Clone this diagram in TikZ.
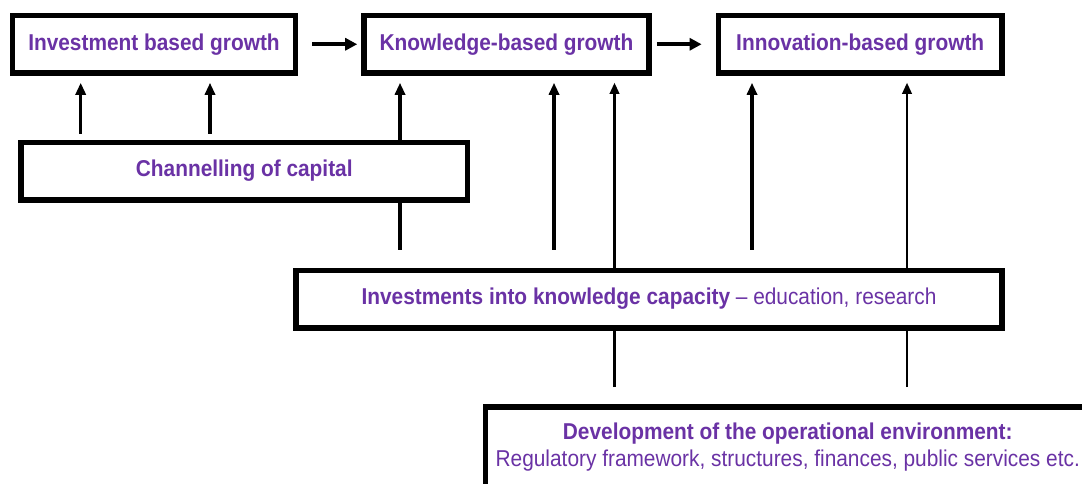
\documentclass[tikz,border=0pt]{standalone}
\usepackage{fontspec}
\setmainfont{Liberation Sans}[FakeStretch=0.91]
\usetikzlibrary{arrows.meta,backgrounds}
\definecolor{txtpurple}{RGB}{106,50,165}
\newcommand\boxsize{\fontsize{16.3}{19.2}\selectfont}
\begin{document}
\begin{tikzpicture}[x=0.025cm,y=-0.025cm,
		stage/.style={draw,line width=3.9pt,fill=white,text=txtpurple,font=\boxsize\bfseries,minimum height=1.4375cm,inner sep=0pt},
		across/.style={line width=2.8pt,-{Triangle[length=0.3cm,width=0.3cm]}},
		thickup/.style={line width=2.5pt,-{Triangle[length=0.3cm,width=0.25cm]}},
		thinup/.style={line width=1.6pt,-{Triangle[length=0.28cm,width=0.24cm]}}]
	\useasboundingbox (0,0) rectangle (1082,483);
	\clip (0,0) rectangle (1082,483);
	\node[stage,minimum width=7.075cm] (ibg) at (154,44.25) {Investment based growth};
	\node[stage,minimum width=7.125cm] (kbg) at (506.5,44.25) {Knowledge-based growth};
	\node[stage,minimum width=7.09cm] (nbg) at (860.2,44.25) {Innovation-based growth};
	\node[stage,minimum width=11.16cm] (chan) at (244.25,171.1) {Channelling of capital};
	\node[stage,minimum width=17.65cm] (capa) at (649,299) {Investments into knowledge capacity {\mdseries -- education, research}};
	\node[stage,minimum width=15.11cm,minimum height=2cm,align=center,font=\boxsize] (env) at (787.75,446.85) {{\bfseries Development of the operational environment:}\\Regulatory framework, structures, finances, public services etc.};
	\coordinate (c1) at (80.7,0);
	\coordinate (c2) at (210,0);
	\coordinate (c3) at (400,0);
	\coordinate (c4) at (554,0);
	\coordinate (c5) at (614.5,0);
	\coordinate (c6) at (752,0);
	\coordinate (c7) at (907,0);
	\begin{scope}[on background layer]
		\draw[across,shorten <=0.35cm,shorten >=0.1cm] (ibg) -- (kbg);
		\draw[across,shorten <=0.125cm,shorten >=0.35cm] (kbg) -- (nbg);
		\draw[thickup,shorten <=0.15cm,shorten >=0.175cm] (chan.north -| c1) -- (ibg.south -| c1);
		\draw[thickup,shorten <=0.15cm,shorten >=0.175cm] (chan.north -| c2) -- (ibg.south -| c2);
		\draw[thickup,shorten <=0.44cm,shorten >=0.175cm] (capa.north -| c3) -- (kbg.south -| c3);
		\draw[thickup,shorten <=0.44cm,shorten >=0.175cm] (capa.north -| c4) -- (kbg.south -| c4);
		\draw[thinup,shorten <=0.425cm,shorten >=0.175cm] (env.north -| c5) -- (kbg.south -| c5);
		\draw[thickup,shorten <=0.44cm,shorten >=0.175cm] (capa.north -| c6) -- (nbg.south -| c6);
		\draw[thinup,shorten <=0.425cm,shorten >=0.175cm] (env.north -| c7) -- (nbg.south -| c7);
	\end{scope}
\end{tikzpicture}
\end{document}
